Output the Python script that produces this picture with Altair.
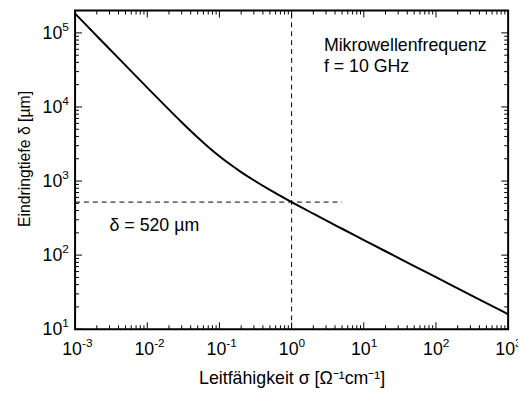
import altair as alt
import pandas as pd

# Leitfähigkeit sigma [1/(Ohm cm)] and Eindringtiefe delta [um]
sigma = [0.001, 0.002, 0.003, 0.005, 0.01, 0.02, 0.03, 0.05, 0.07, 0.1, 0.15, 0.2,
         0.3, 0.5, 0.7, 1.0, 1.5, 2.0, 3.0, 5.0, 10.0, 20.0, 50.0, 100.0, 200.0,
         500.0, 1000.0]
delta = [181800, 90900, 60600, 36400, 18220, 9190, 6210, 3864, 2884, 2163, 1605,
         1322, 1024, 760, 631, 520, 420, 362, 294, 227, 160, 112.8, 71.3, 50.4,
         35.6, 22.5, 15.9]

# reference lines
ref_sigma = 1.0
ref_delta = 520
ref_h_end = 5.0

# axis ticks and tick labels (base "10" with exponent)
x_decades = [0.001, 0.01, 0.1, 1, 10, 100, 1000]
x_exponents = ["-3", "-2", "-1", "0", "1", "2", "3"]
y_decades = [10, 100, 1000, 10000, 100000]
y_exponents = ["1", "2", "3", "4", "5"]
mantissas = [2, 3, 4, 5, 6, 7, 8, 9]

X_DOMAIN = [0.001, 1000]
Y_DOMAIN = [10, 200000]
W, H = 439, 323
FONT = "Liberation Sans"

xs = alt.Scale(type="log", domain=X_DOMAIN, nice=False)
ys = alt.Scale(type="log", domain=Y_DOMAIN, nice=False)

AX = alt.Axis(ticks=False, domain=False, grid=False, labels=False,
              title="Leitfähigkeit σ [Ω⁻¹cm⁻¹]", titleFont=FONT,
              titleFontSize=18, titleFontWeight="normal", titleColor="black",
              titlePadding=41)
AY = alt.Axis(ticks=False, domain=False, grid=False, labels=False,
              title="Eindringtiefe δ [µm]", titleFont=FONT,
              titleFontSize=16, titleFontWeight="normal", titleColor="black",
              titlePadding=43, titleY=150)

curve_df = pd.DataFrame({"sigma": sigma, "delta": delta})

curve = alt.Chart(curve_df).mark_line(color="black", strokeWidth=2, interpolate="monotone").encode(
    x=alt.X("sigma:Q", scale=xs, axis=AX),
    y=alt.Y("delta:Q", scale=ys, axis=AY),
)

hline_df = pd.DataFrame({"x1": [X_DOMAIN[0]], "x2": [ref_h_end], "y": [ref_delta]})
hline = alt.Chart(hline_df).mark_rule(color="black", strokeWidth=1, strokeDash=[5, 4]).encode(
    x=alt.X("x1:Q", scale=xs, axis=AX), x2="x2:Q",
    y=alt.Y("y:Q", scale=ys, axis=AY))

vline_df = pd.DataFrame({"x": [ref_sigma], "y1": [Y_DOMAIN[0]], "y2": [Y_DOMAIN[1]]})
vline = alt.Chart(vline_df).mark_rule(color="black", strokeWidth=1, strokeDash=[5, 4]).encode(
    x=alt.X("x:Q", scale=xs, axis=AX),
    y=alt.Y("y1:Q", scale=ys, axis=AY), y2="y2:Q")

# inward ticks on all four sides
x_major = pd.DataFrame({"v": x_decades})
x_minor = pd.DataFrame({"v": [m * d for d in x_decades[:-1] for m in mantissas]})
y_major = pd.DataFrame({"v": y_decades})
y_minor = pd.DataFrame({"v": [m * d for d in y_decades for m in mantissas if m * d <= Y_DOMAIN[1]]})

tick_layers = []
for df, ln in [(x_major, 7), (x_minor, 4)]:
    tick_layers.append(alt.Chart(df).mark_rule(color="black", strokeWidth=1).encode(
        x=alt.X("v:Q", scale=xs, axis=AX), y=alt.value(H), y2=alt.value(H - ln)))
    tick_layers.append(alt.Chart(df).mark_rule(color="black", strokeWidth=1).encode(
        x=alt.X("v:Q", scale=xs, axis=AX), y=alt.value(0), y2=alt.value(ln)))
for df, ln in [(y_major, 7), (y_minor, 4)]:
    tick_layers.append(alt.Chart(df).mark_rule(color="black", strokeWidth=1).encode(
        y=alt.Y("v:Q", scale=ys, axis=AY), x=alt.value(0), x2=alt.value(ln)))
    tick_layers.append(alt.Chart(df).mark_rule(color="black", strokeWidth=1).encode(
        y=alt.Y("v:Q", scale=ys, axis=AY), x=alt.value(W), x2=alt.value(W - ln)))

# tick labels: "10" plus raised exponent
xl_df = pd.DataFrame({"v": x_decades, "e": x_exponents, "b": ["10"] * len(x_decades)})
yl_df = pd.DataFrame({"v": y_decades, "e": y_exponents, "b": ["10"] * len(y_decades)})
label_layers = [
    alt.Chart(xl_df).mark_text(align="right", baseline="alphabetic", font=FONT, fontSize=18,
                               color="black", dx=7).encode(
        x=alt.X("v:Q", scale=xs, axis=AX), y=alt.value(H + 26), text="b:N"),
    alt.Chart(xl_df).mark_text(align="left", baseline="alphabetic", font=FONT, fontSize=12,
                               color="black", dx=7).encode(
        x=alt.X("v:Q", scale=xs, axis=AX), y=alt.value(H + 18), text="e:N"),
    alt.Chart(yl_df).mark_text(align="right", baseline="alphabetic", font=FONT, fontSize=18,
                               color="black", dy=6).encode(
        y=alt.Y("v:Q", scale=ys, axis=AY), x=alt.value(-13), text="b:N"),
    alt.Chart(yl_df).mark_text(align="left", baseline="alphabetic", font=FONT, fontSize=12,
                               color="black", dy=-2).encode(
        y=alt.Y("v:Q", scale=ys, axis=AY), x=alt.value(-13), text="e:N"),
]

text_df = pd.DataFrame({
    "x": [2.8, 2.8, 0.0030],
    "y": [57000, 30000, 213],
    "t": ["Mikrowellenfrequenz", "f = 10 GHz", "δ = 520 µm"],
})
texts = alt.Chart(text_df).mark_text(align="left", baseline="alphabetic", font=FONT,
                                     fontSize=18, color="black").encode(
    x=alt.X("x:Q", scale=xs, axis=AX),
    y=alt.Y("y:Q", scale=ys, axis=AY),
    text="t:N")

chart = alt.layer(curve, hline, vline, texts, *tick_layers, *label_layers).properties(
    width=W, height=H,
    autosize=alt.AutoSizeParams(type="none"),
    padding={"left": 68, "top": 0, "right": 10, "bottom": 58},
).configure(background="white").configure_view(stroke="black", strokeWidth=2)

chart.save("out.html", embed_options={"renderer": "svg", "actions": False})
